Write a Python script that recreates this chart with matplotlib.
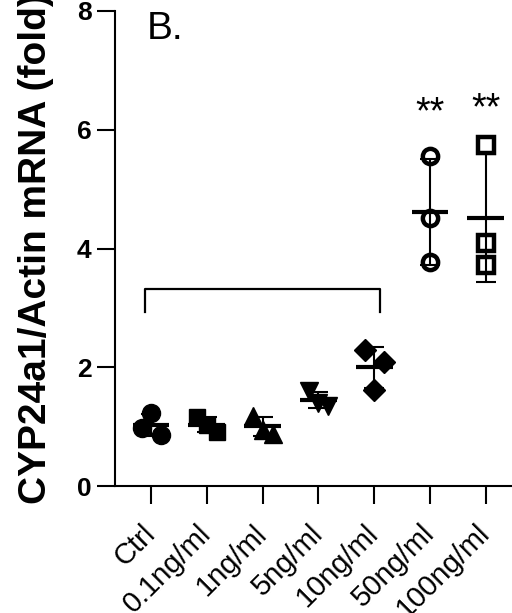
import numpy as np
import matplotlib.pyplot as plt

plt.rcParams['font.family'] = ['Liberation Sans', 'DejaVu Sans']

grupos = ['Ctrl', '0.1ng/ml', '1ng/ml', '5ng/ml', '10ng/ml', '50ng/ml', '100ng/ml']
valores = [
    [1.23, 0.98, 0.86],
    [1.16, 1.03, 0.91],
    [1.18, 0.95, 0.88],
    [1.60, 1.40, 1.35],
    [2.29, 2.09, 1.62],
    [5.56, 4.51, 3.77],
    [5.74, 4.09, 3.72],
]
deslocamentos = [
    [0.0, -0.16, 0.18],
    [-0.17, 0.0, 0.18],
    [-0.18, 0.0, 0.18],
    [-0.17, 0.0, 0.18],
    [-0.16, 0.17, 0.0],
    [0.0, 0.0, 0.0],
    [0.0, 0.0, 0.0],
]
marcadores = ['o', 's', '^', 'v', 'D', 'o', 's']
tamanhos = [13, 12, 13, 13, 11, 11, 11.5]
abertos = [False, False, False, False, False, True, True]
significancia = ['', '', '', '', '', '**', '**']
altura_sig = [0, 0, 0, 0, 0, 6.28, 6.35]

fig = plt.figure(figsize=(5.12, 6.13), dpi=100)
ax = fig.add_axes([115 / 512, 127 / 613, 1 - 115 / 512, 475 / 613])

for i, (vals, dx) in enumerate(zip(valores, deslocamentos)):
    vals = np.array(vals)
    media = vals.mean()
    dp = vals.std(ddof=1)
    # barra de erro (DP) e linha da média
    ax.errorbar(i, media, yerr=dp, fmt='none', ecolor='black', elinewidth=1.5,
                capsize=7, capthick=1.5, zorder=2)
    ax.plot([i - 0.33, i + 0.33], [media, media], color='black', lw=3, zorder=2,
            solid_capstyle='butt')
    if abertos[i]:
        ax.plot(i + np.array(dx), vals, linestyle='none', marker=marcadores[i],
                markersize=tamanhos[i], markerfacecolor='none',
                markeredgecolor='black', markeredgewidth=3.2, zorder=3)
    else:
        ax.plot(i + np.array(dx), vals, linestyle='none', marker=marcadores[i],
                markersize=tamanhos[i], color='black', zorder=3)
    if significancia[i]:
        ax.text(i, altura_sig[i], significancia[i], ha='center', va='center', fontsize=27)

# colchete de comparação
ax.plot([-0.11, -0.11, 4.1, 4.1], [2.93, 3.32, 3.32, 2.93], color='black', lw=1.6)

ax.set_xlim(-0.645, 6.47)
ax.set_ylim(0, 8)
ax.set_yticks([0, 2, 4, 6, 8])
ax.set_xticks(range(len(grupos)))
ax.set_xticklabels(grupos, rotation=45, ha='right', va='center',
                   rotation_mode='anchor', fontsize=21)
for lab in ax.get_yticklabels():
    lab.set_fontweight('bold')
    lab.set_fontsize(19)

ax.spines['top'].set_visible(False)
ax.spines['right'].set_visible(False)
ax.spines['left'].set_linewidth(1.5)
ax.spines['bottom'].set_linewidth(1.5)
ax.tick_params(axis='both', length=13, width=1.5)
ax.tick_params(axis='y', pad=4)
ax.tick_params(axis='x', pad=18)

ax.set_ylabel('CYP24a1/Actin mRNA (fold)', fontsize=28, fontweight='bold', labelpad=16)
ax.text(0.08, 1.0, 'B.', transform=ax.transAxes, fontsize=28, va='top', ha='left')

fig.savefig('out.png', dpi=100)
